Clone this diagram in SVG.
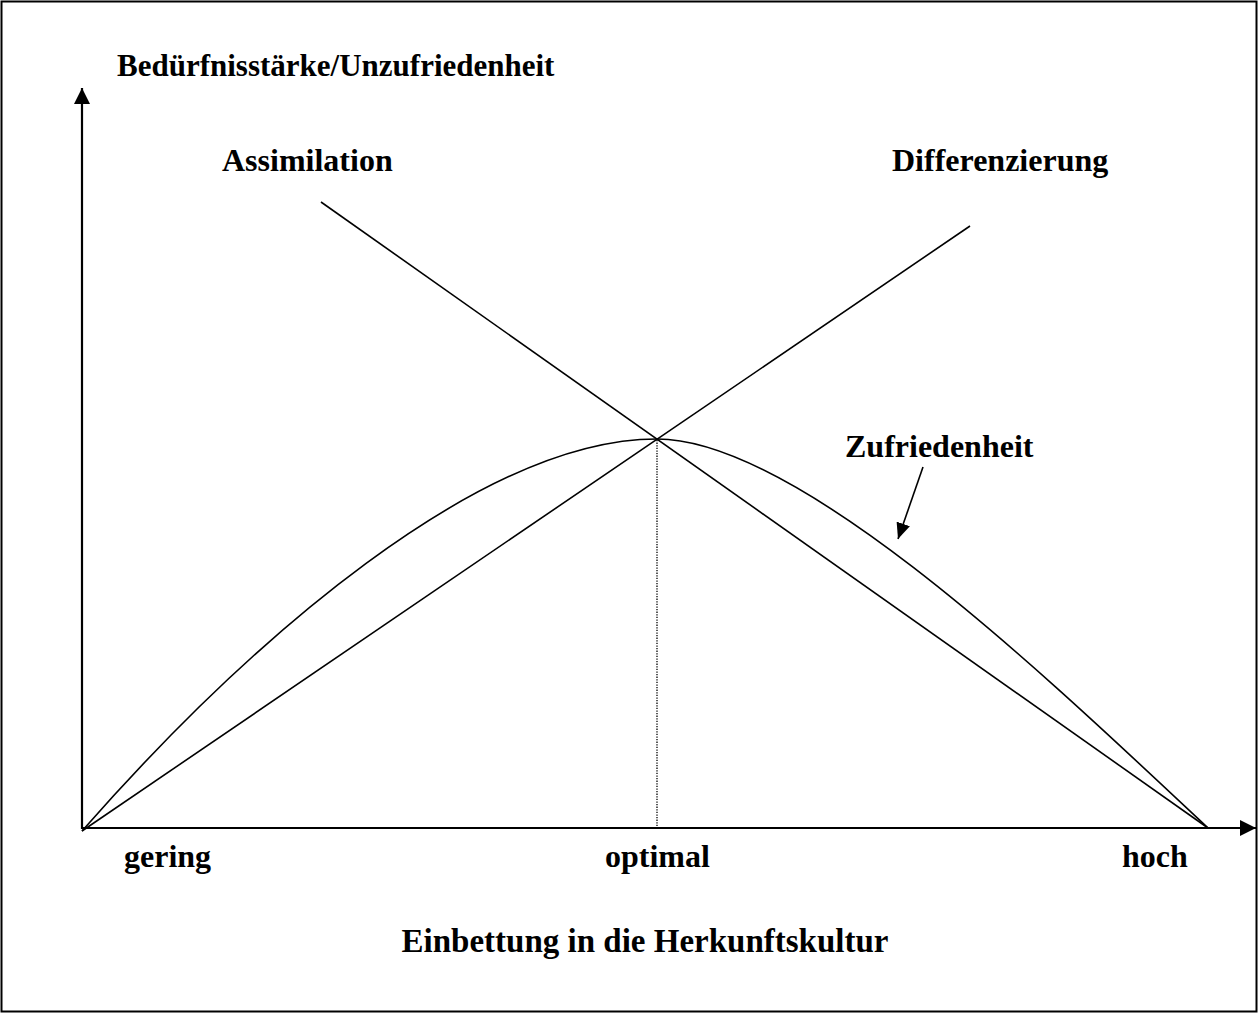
<svg xmlns="http://www.w3.org/2000/svg" width="1259" height="1014" viewBox="0 0 1259 1014">
<style>
text{font-family:"Liberation Serif","Times New Roman",serif;font-weight:bold;font-size:32px;fill:#000}
.ln{stroke:#000;stroke-width:1.6;fill:none}
.ax{stroke:#000;stroke-width:2.2;fill:none}
</style>
<defs>
<marker id="ah" viewBox="0 0 16 16" refX="16" refY="8" markerWidth="16" markerHeight="16" markerUnits="userSpaceOnUse" orient="auto"><path d="M0,0 L16,8 L0,16 Z" fill="#000"/></marker>
<marker id="sh" viewBox="0 0 16 16" refX="16" refY="8" markerWidth="16" markerHeight="16" markerUnits="userSpaceOnUse" orient="auto"><path d="M0,1 L16,8 L0,15 Z" fill="#000"/></marker>
</defs>
<rect x="1.5" y="1.5" width="1255" height="1010" fill="#fff" stroke="#000" stroke-width="2"/>
<g id="connectors">
<line id="y-axis" class="ax" x1="82" y1="829" x2="82" y2="88" marker-end="url(#ah)"/>
<line id="x-axis" class="ax" x1="81" y1="828" x2="1256" y2="828" marker-end="url(#ah)"/>
<line id="assimilation-line" class="ln" x1="321" y1="202" x2="1208" y2="828"/>
<line id="differenzierung-line" class="ln" x1="82" y1="831" x2="970" y2="226"/>
<path id="zufriedenheit-curve" class="ln" d="M82,831 C250,640 480,439 657,439 C800,439 1050,680 1208,828"/>
<line id="optimal-line" stroke="#000" stroke-width="1.3" stroke-dasharray="1.3,1.3" x1="657" y1="440" x2="657" y2="827"/>
<line id="zufriedenheit-pointer" class="ln" x1="923" y1="467" x2="898" y2="539" marker-end="url(#sh)"/>
</g>
<g id="label-y"><text x="117" y="76" style="font-size:31px">Bedürfnisstärke/Unzufriedenheit</text></g>
<g id="label-assimilation"><text x="222" y="171">Assimilation</text></g>
<g id="label-differenzierung"><text x="892" y="171">Differenzierung</text></g>
<g id="label-zufriedenheit"><text x="845" y="457">Zufriedenheit</text></g>
<g id="label-gering"><text x="124" y="867">gering</text></g>
<g id="label-optimal"><text x="605" y="867">optimal</text></g>
<g id="label-hoch"><text x="1122" y="867">hoch</text></g>
<g id="label-x"><text x="645" y="952" text-anchor="middle" style="font-size:33px">Einbettung in die Herkunftskultur</text></g>
</svg>
